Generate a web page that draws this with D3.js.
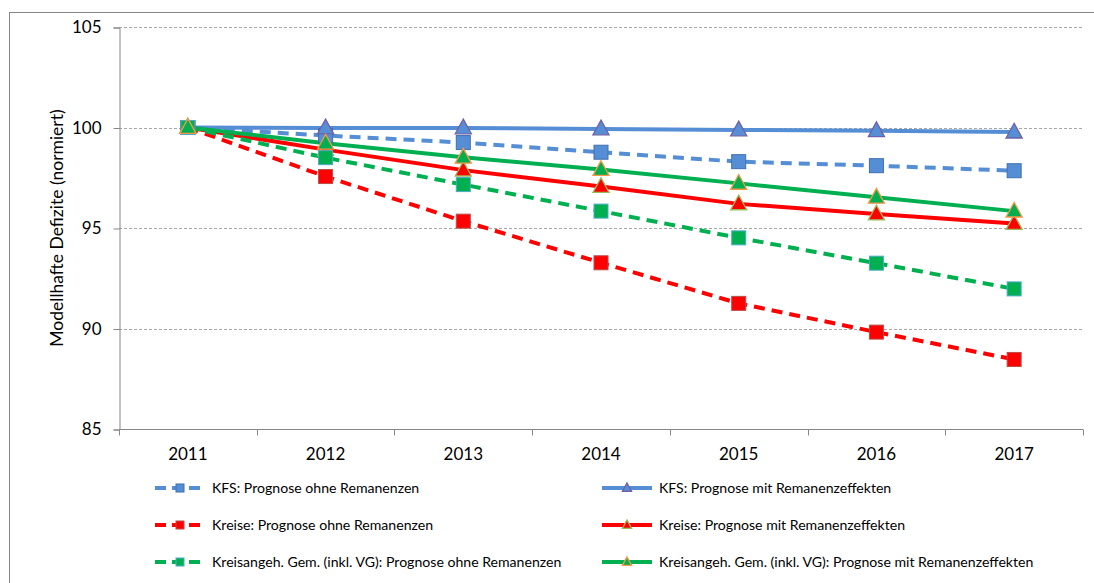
<!DOCTYPE html>
<html lang="de">
<head>
<meta charset="utf-8">
<script src="https://d3js.org/d3.v7.min.js"></script>
<style>
  body { margin: 0; background: #fff; }
  text { font-family: Lato, "Liberation Sans", Arial, sans-serif; fill: #000; }
</style>
</head>
<body>
<script>
const width = 1094;
const height = 583;

// data
const years = ["2011", "2012", "2013", "2014", "2015", "2016", "2017"];
const yTicks = [85, 90, 95, 100, 105];

const kfsOhne = [100, 99.6, 99.25, 98.77, 98.3, 98.1, 97.85];
const kfsMit = [100, 99.98, 99.98, 99.93, 99.88, 99.84, 99.77];
const kreiseOhne = [100, 97.56, 95.34, 93.27, 91.25, 89.82, 88.46];
const kreiseMit = [100, 98.9, 97.88, 97.06, 96.2, 95.7, 95.22];
const gemOhne = [100, 98.5, 97.16, 95.84, 94.51, 93.25, 91.97];
const gemMit = [100, 99.22, 98.52, 97.91, 97.22, 96.53, 95.84];

const series = [
  {name: "KFS: Prognose ohne Remanenzen", values: kfsOhne, color: "#558ED5", dash: true, marker: "square", mstroke: "#3F6FB0"},
  {name: "KFS: Prognose mit Remanenzeffekten", values: kfsMit, color: "#558ED5", dash: false, marker: "triangle", mstroke: "#7060A8"},
  {name: "Kreise: Prognose ohne Remanenzen", values: kreiseOhne, color: "#FF0000", dash: true, marker: "square", mstroke: "#BE4B48"},
  {name: "Kreise: Prognose mit Remanenzeffekten", values: kreiseMit, color: "#FF0000", dash: false, marker: "triangle", mstroke: "#9BBB59"},
  {name: "Kreisangeh. Gem. (inkl. VG): Prognose ohne Remanenzen", values: gemOhne, color: "#00B050", dash: true, marker: "square", mstroke: "#4BACC6"},
  {name: "Kreisangeh. Gem. (inkl. VG): Prognose mit Remanenzeffekten", values: gemMit, color: "#00B050", dash: false, marker: "triangle", mstroke: "#F79646"}
];

const margin = {left: 119, top: 27, right: 11, bottom: 154};

const svg = d3.select(document.body).append("svg")
  .attr("width", width).attr("height", height);

// chart border
svg.append("rect")
  .attr("x", 9.5).attr("y", 12.5)
  .attr("width", 1200).attr("height", 700)
  .attr("fill", "none").attr("stroke", "#868686").attr("stroke-width", 1);

const x = d3.scaleBand().domain(years).range([margin.left, width - margin.right]);
const y = d3.scaleLinear().domain([85, 105]).range([height - margin.bottom, margin.top]);

// gridlines
svg.append("g")
  .selectAll("line")
  .data(yTicks.filter(d => d > 85))
  .enter().append("line")
  .attr("x1", margin.left).attr("x2", width - margin.right)
  .attr("y1", d => Math.round(y(d)) + 0.5).attr("y2", d => Math.round(y(d)) + 0.5)
  .attr("stroke", "#A6A6A6").attr("stroke-dasharray", "3,2");

// y axis
const yAxis = svg.append("g")
  .attr("transform", "translate(" + (margin.left + 0.5) + ",0.5)")
  .call(d3.axisLeft(y).tickValues(yTicks).tickSize(6).tickPadding(12));
yAxis.select(".domain").attr("stroke", "#868686");
yAxis.selectAll(".tick line").attr("stroke", "#868686");
yAxis.selectAll(".tick text").attr("font-size", "17px");

// x axis with ticks on the band edges
const xAxis = svg.append("g")
  .attr("transform", "translate(0," + (Math.round(y(85)) + 0.5) + ")");
xAxis.append("line")
  .attr("x1", margin.left).attr("x2", width - margin.right)
  .attr("stroke", "#868686");
xAxis.selectAll(".edge")
  .data(years.concat(["end"]))
  .enter().append("line")
  .attr("x1", (d, i) => Math.round(margin.left + i * x.bandwidth()) + 0.5)
  .attr("x2", (d, i) => Math.round(margin.left + i * x.bandwidth()) + 0.5)
  .attr("y1", 0).attr("y2", 6)
  .attr("stroke", "#868686");
xAxis.selectAll("text")
  .data(years)
  .enter().append("text")
  .attr("x", d => x(d) + x.bandwidth() / 2)
  .attr("y", 30)
  .attr("text-anchor", "middle")
  .attr("font-size", "17px")
  .text(d => d);

// y title
svg.append("text")
  .attr("transform", "translate(63," + y(95) + ") rotate(-90)")
  .attr("text-anchor", "middle")
  .attr("font-size", "17.5px")
  .text("Modellhafte Defizite (normiert)");

const cx = d => x(d) + x.bandwidth() / 2;
const line = d3.line().x((v, i) => cx(years[i])).y(v => y(v));

// lines first
svg.append("g").selectAll("path")
  .data(series)
  .enter().append("path")
  .attr("d", s => line(s.values))
  .attr("fill", "none")
  .attr("stroke", s => s.color)
  .attr("stroke-width", 4)
  .attr("stroke-dasharray", s => s.dash ? "11,7" : null);

function drawMarker(g, s, px, py, size) {
  if (s.marker === "square") {
    g.append("rect")
      .attr("x", px - size / 2).attr("y", py - size / 2)
      .attr("width", size).attr("height", size)
      .attr("fill", s.color).attr("stroke", s.mstroke).attr("stroke-width", 1);
  } else {
    const w = size * 1.15, h = size * 1.05;
    g.append("path")
      .attr("d", "M" + px + "," + (py - h * 0.6) + "L" + (px + w / 2) + "," + (py + h * 0.4) +
        "L" + (px - w / 2) + "," + (py + h * 0.4) + "Z")
      .attr("fill", s.color).attr("stroke", s.mstroke).attr("stroke-width", 1.3);
  }
}

// markers
const markers = svg.append("g");
series.forEach(s => {
  s.values.forEach((v, i) => drawMarker(markers, s, cx(years[i]), y(v), 14));
});

// legend
const legendCols = [155, 602];
const legendRows = [488, 525, 562];
const legend = svg.append("g");
series.forEach((s, i) => {
  const lx = legendCols[i % 2];
  const ly = legendRows[Math.floor(i / 2)];
  const g = legend.append("g");
  g.append("line")
    .attr("x1", lx).attr("x2", lx + 50)
    .attr("y1", ly).attr("y2", ly)
    .attr("stroke", s.color).attr("stroke-width", 4)
    .attr("stroke-dasharray", s.dash ? "11,6" : null);
  drawMarker(g, s, lx + 25, ly, 8);
  g.append("text")
    .attr("x", lx + 57).attr("y", ly + 5)
    .attr("font-size", "14.1px")
    .text(s.name);
});
</script>
</body>
</html>
